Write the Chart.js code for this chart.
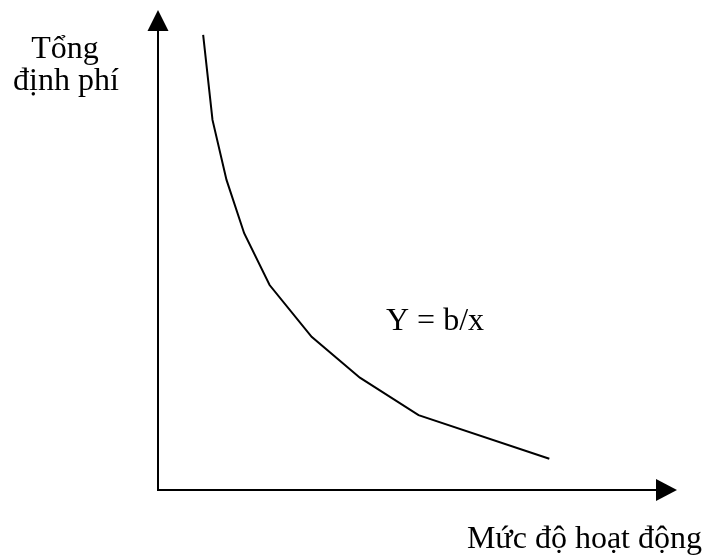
<!DOCTYPE html>
<html>
<head>
<meta charset="utf-8">
<script src="https://cdn.jsdelivr.net/npm/chart.js@4"></script>
<style>
  html, body { margin: 0; padding: 0; background: #fff; }
  #wrap { width: 717px; height: 556px; }
</style>
</head>
<body>
<div id="wrap"><canvas id="chart" width="717" height="556"></canvas></div>
<script>
// Fixed cost per unit curve: Y = b/x
const activityLevel = [0.87, 1.05, 1.32, 1.66, 2.15, 2.96, 3.89, 5.02, 7.54];
const fixedCost = [9.48, 7.71, 6.46, 5.35, 4.27, 3.19, 2.34, 1.56, 0.65];

const yAxisLabel = ['Tổng', 'định phí'];
const xAxisLabel = 'Mức độ hoạt động';
const curveLabel = 'Y = b/x';

const FONT = '32px "Liberation Serif", "Times New Roman", serif';

// Axes with arrowheads + text labels
const axesPlugin = {
    id: 'axesPlugin',
    afterDraw(chart) {
        const ctx = chart.ctx;
        const area = chart.chartArea;
        const x0 = chart.scales.x.getPixelForValue(0);
        const y0 = chart.scales.y.getPixelForValue(0);

        ctx.save();
        ctx.strokeStyle = '#000';
        ctx.fillStyle = '#000';
        ctx.lineWidth = 2;

        // y axis
        ctx.beginPath();
        ctx.moveTo(x0, y0 + 1);
        ctx.lineTo(x0, area.top + 20);
        ctx.stroke();
        ctx.beginPath();
        ctx.moveTo(x0, area.top);
        ctx.lineTo(x0 - 10.5, area.top + 21);
        ctx.lineTo(x0 + 10.5, area.top + 21);
        ctx.closePath();
        ctx.fill();

        // x axis
        ctx.beginPath();
        ctx.moveTo(x0 - 1, y0);
        ctx.lineTo(area.right - 20, y0);
        ctx.stroke();
        ctx.beginPath();
        ctx.moveTo(area.right, y0);
        ctx.lineTo(area.right - 21, y0 - 11);
        ctx.lineTo(area.right - 21, y0 + 11);
        ctx.closePath();
        ctx.fill();

        // labels
        ctx.font = FONT;
        ctx.textBaseline = 'alphabetic';
        ctx.textAlign = 'center';
        ctx.fillText(yAxisLabel[0], 65, 58);
        ctx.fillText(yAxisLabel[1], 66, 90);

        ctx.textAlign = 'left';
        ctx.fillText(curveLabel, 386, 330);

        ctx.textAlign = 'right';
        ctx.fillText(xAxisLabel, 702, 548);
        ctx.restore();
    }
};

const ctx = document.getElementById('chart').getContext('2d');
new Chart(ctx, {
    type: 'scatter',
    data: {
        datasets: [{
            data: activityLevel.map((v, i) => ({ x: v, y: fixedCost[i] })),
            showLine: true,
            borderColor: '#000',
            borderWidth: 2,
            pointRadius: 0,
            tension: 0,
            fill: false
        }]
    },
    options: {
        responsive: false,
        animation: false,
        layout: { padding: { left: 158, right: 40, top: 10, bottom: 66 } },
        plugins: {
            legend: { display: false },
            tooltip: { enabled: false }
        },
        scales: {
            x: { type: 'linear', min: 0, max: 10, display: false },
            y: { type: 'linear', min: 0, max: 10, display: false }
        }
    },
    plugins: [axesPlugin]
});
</script>
</body>
</html>
